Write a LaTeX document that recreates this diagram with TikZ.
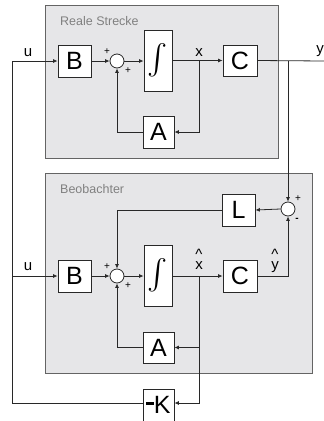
\documentclass[tikz,border=0pt]{standalone}
\usepackage{exscale}
\usepackage{fontspec}
\setmainfont{Liberation Sans}
\usetikzlibrary{arrows.meta}
\definecolor{panelfill}{RGB}{230,230,232}
\definecolor{panelline}{RGB}{100,100,100}
\definecolor{linec}{RGB}{40,40,40}
\definecolor{titlec}{RGB}{128,128,128}
\tikzset{
  panel/.style={draw=panelline, fill=panelfill, line width=0.9pt},
  blk/.style={draw=linec, fill=white, line width=0.8pt, minimum width=33pt, minimum height=32pt, inner sep=0pt, font=\fontsize{25}{25}\selectfont},
  intblk/.style={draw=linec, fill=white, line width=0.8pt, minimum width=28pt, minimum height=61pt, inner sep=0pt, font=\fontsize{15}{15}\selectfont},
  sumc/.style={circle, draw=linec, fill=white, line width=0.8pt, minimum size=14pt, inner sep=0pt},
  conn/.style={draw=linec, line width=0.8pt},
  arr/.style={conn, -{Latex[length=4.5pt,width=4pt]}},
  sig/.style={font=\fontsize{15}{15}\selectfont, inner sep=0pt},
  sgn/.style={font=\fontsize{10}{10}\selectfont, inner sep=0pt},
  ttl/.style={font=\fontsize{12.5}{12.5}\selectfont, text=titlec, anchor=west, inner sep=0pt}
}
\newcommand{\bigintegral}{\scalebox{2.1}{$\int$}}
\newcommand{\hatted}[1]{\ooalign{#1\cr\hidewidth\raisebox{10pt}{\^{}}\hidewidth\cr}}
\begin{document}
\begin{tikzpicture}[x=1pt,y=-1pt]
\useasboundingbox (0,0) rectangle (324,421);
% panels
\draw[panel] (45,5) rectangle (278,158);
\draw[panel] (45,173) rectangle (312,373);
\node[ttl] (t1) at (60,21) {Reale Strecke};
\node[ttl] (t2) at (60,189) {Beobachter};
% top plant
\node[blk] (B1) at (74.5,61) {B};
\node[sumc] (S1) at (117,61) {};
\node[intblk] (I1) at (158,60.5) {\bigintegral};
\node[blk, minimum width=34pt, minimum height=31pt] (C1) at (240,60.5) {C};
\node[blk, minimum width=31pt] (A1) at (158.5,132) {A};
% observer
\node[blk] (L) at (238.5,210) {L};
\node[sumc] (S3) at (288,209) {};
\node[blk] (B2) at (74.5,276) {B};
\node[sumc] (S2) at (117,276) {};
\node[intblk] (I2) at (158,275.5) {\bigintegral};
\node[blk, minimum width=34pt] (C2) at (240,276) {C};
\node[blk, minimum width=31pt, minimum height=31pt] (A2) at (158.5,347.5) {A};
\node[blk, minimum width=31pt] (K) at (158.5,405) {\rule[0.33em]{0.3em}{0.12em}K};
% coordinates
\coordinate (in1) at (12,61);
\coordinate (in2) at (12,276);
\coordinate (kl) at (12,403);
\coordinate (out) at (324,61);
\coordinate (xb1) at (199,61);
\coordinate (yb) at (288,61);
\coordinate (xb2) at (199,276);
% top connections
\draw[conn] (K.west |- kl) -- (kl) -- (in1);
\draw[arr] (in1) -- (B1.west);
\draw[arr] (B1.east) -- (S1.west);
\draw[arr] (S1.east) -- (I1.west |- S1.east);
\draw[arr] (I1.east |- C1.west) -- (C1.west);
\draw[conn] (C1.east) -- (out);
\draw[arr] (xb1) |- (A1.east);
\draw[arr] (A1.west) -| (S1.south);
\draw[arr] (yb) -- (S3.north);
% bottom connections
\draw[arr] (in2) -- (B2.west);
\draw[arr] (B2.east) -- (S2.west);
\draw[arr] (S2.east) -- (I2.west |- S2.east);
\draw[arr] (I2.east |- C2.west) -- (C2.west);
\draw[arr] (C2.east) -| (S3.south);
\draw[arr] (S3.west) -- (L.east);
\draw[arr] (L.west) -| (S2.north);
\draw[arr] (xb2) |- (A2.east);
\draw[arr] (xb2) |- (K.east |- kl);
\draw[arr] (A2.west) -| (S2.south);
% signal labels
\node[sig] (lu1) at (28,53) {u};
\node[sig] (lx1) at (199,53) {x};
\node[sig] (ly) at (320,51) {y};
\node[sig] (lu2) at (28,267) {u};
\node[sig, anchor=base] (lx2) at (199,269) {\hatted{x}};
\node[sig, anchor=base] (ly2) at (275,269) {\hatted{y}};
% signs
\node[sgn] (p1) at (107,52) {+};
\node[sgn] (p2) at (128,71) {+};
\node[sgn] (p3) at (107,267) {+};
\node[sgn] (p4) at (128,286) {+};
\node[sgn] (p5) at (298,199) {+};
\node[sgn, font=\fontsize{10}{10}\bfseries] (m5) at (297,220) {-};
\end{tikzpicture}
\end{document}
